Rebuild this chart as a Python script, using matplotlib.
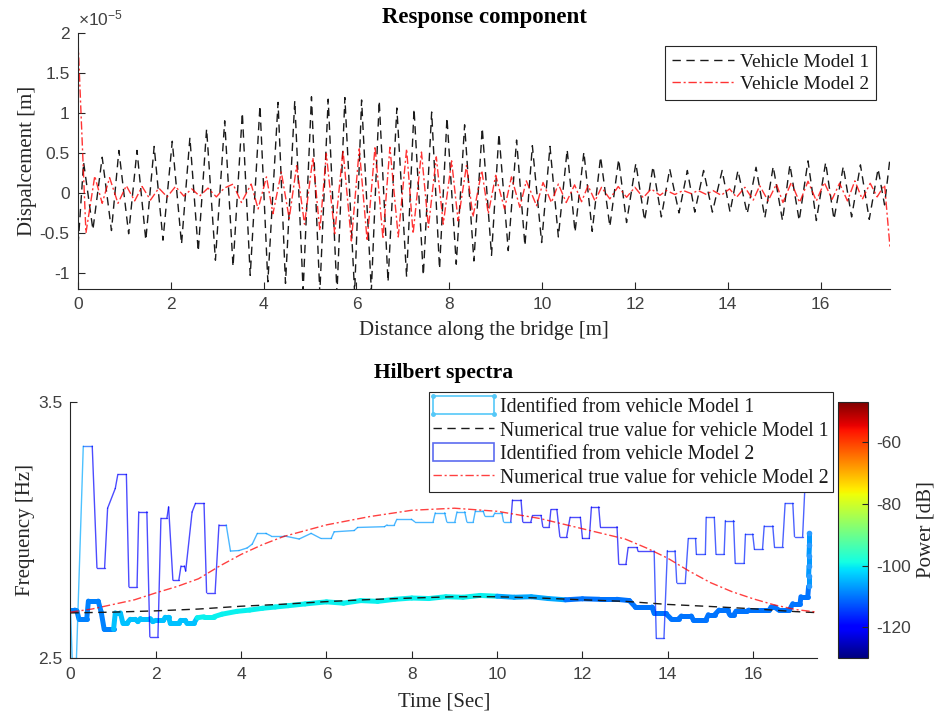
import numpy as np
import matplotlib
matplotlib.use('Agg')
import matplotlib.pyplot as plt
from matplotlib.collections import LineCollection
from matplotlib.colors import Normalize
from matplotlib.cm import ScalarMappable
from matplotlib.legend_handler import HandlerBase
from matplotlib.patches import Rectangle
from matplotlib.lines import Line2D
from matplotlib.ticker import FormatStrFormatter

plt.rcParams['font.family'] = 'Liberation Sans'
plt.rcParams['axes.unicode_minus'] = False
plt.rcParams['mathtext.fontset'] = 'custom'
plt.rcParams['mathtext.rm'] = 'Liberation Sans'

SERIF = 'Liberation Serif'
AXC = '#262626'
TXC = '#404040'

# ---- top panel: displacement response (x10^-5 m), extrema
veh1_x = [0.0, 0.12, 0.32, 0.52, 0.72, 0.88, 1.09, 1.27, 1.46, 1.64, 1.83, 2.03, 2.23, 2.41,
          2.59, 2.77, 2.96, 3.16, 3.34, 3.54, 3.71, 3.92, 4.09, 4.31, 4.47, 4.67, 4.85, 5.03,
          5.21, 5.39, 5.58, 5.75, 5.96, 6.11, 6.32, 6.49, 6.68, 6.87, 7.08, 7.24, 7.44, 7.62,
          7.79, 7.95, 8.15, 8.33, 8.53, 8.71, 8.91, 9.07, 9.27, 9.45, 9.63, 9.79, 9.99, 10.17,
          10.35, 10.54, 10.71, 10.90, 11.08, 11.26, 11.46, 11.65, 11.82, 12.02, 12.21, 12.39,
          12.57, 12.75, 12.95, 13.13, 13.29, 13.48, 13.67, 13.88, 14.05, 14.22, 14.42, 14.61,
          14.80, 14.98, 15.18, 15.34, 15.54, 15.73, 15.91, 16.11, 16.29, 16.49, 16.67, 16.86,
          17.05, 17.24, 17.38, 17.5]
veh1_y = [-0.65, 0.38, -0.46, 0.445, -0.47, 0.53, -0.51, 0.53, -0.59, 0.58, -0.59, 0.645, -0.64,
          0.69, -0.73, 0.80, -0.84, 0.90, -0.92, 1.00, -1.03, 1.09, -1.11, 1.13, -1.13, 1.15,
          -1.22, 1.20, -1.25, 1.17, -1.25, 1.19, -1.25, 1.16, -1.22, 1.15, -1.11, 1.06, -1.05,
          1.05, -1.03, 1.01, -0.95, 0.94, -0.89, 0.85, -0.85, 0.81, -0.78, 0.74, -0.72, 0.66,
          -0.66, 0.59, -0.62, 0.58, -0.55, 0.54, -0.49, 0.51, -0.48, 0.45, -0.42, 0.42, -0.37,
          0.37, -0.345, 0.33, -0.30, 0.30, -0.25, 0.28, -0.24, 0.28, -0.24, 0.28, -0.24, 0.28,
          -0.26, 0.32, -0.31, 0.33, -0.345, 0.35, -0.345, 0.40, -0.345, 0.38, -0.33, 0.33, -0.30,
          0.35, -0.33, 0.30, -0.15, 0.45]

veh2_x = [0.0, 0.17, 0.36, 0.52, 0.68, 0.86, 1.04, 1.22, 1.38, 1.56, 1.74, 1.92, 2.10, 2.28,
          2.45, 2.62, 2.80, 2.98, 3.15, 3.34, 3.52, 3.73, 3.88, 4.06, 4.20, 4.38, 4.55, 4.71,
          4.88, 5.06, 5.21, 5.35, 5.53, 5.71, 5.89, 6.06, 6.23, 6.40, 6.57, 6.72, 6.90, 7.08,
          7.22, 7.40, 7.55, 7.72, 7.87, 8.05, 8.19, 8.37, 8.51, 8.70, 8.84, 9.00, 9.19, 9.34,
          9.52, 9.66, 9.88, 10.02, 10.20, 10.35, 10.52, 10.70, 10.85, 10.99, 11.14, 11.28,
          11.46, 11.64, 11.82, 12.00, 12.18, 12.35, 12.54, 12.68, 12.86, 13.04, 13.22, 13.36,
          13.54, 13.68, 13.86, 14.04, 14.19, 14.37, 14.55, 14.69, 14.87, 15.05, 15.19, 15.37,
          15.55, 15.73, 15.91, 16.08, 16.25, 16.41, 16.58, 16.74, 16.90, 17.07, 17.22, 17.38,
          17.5]
veh2_y = [1.89, -0.50, 0.21, -0.13, 0.19, -0.13, 0.09, -0.10, 0.08, -0.09, 0.06, -0.05, 0.08,
          -0.04, 0.05, -0.04, 0.06, -0.05, 0.06, 0.11, -0.12, 0.11, -0.20, 0.20, -0.26, 0.26,
          -0.32, 0.34, -0.39, 0.44, -0.47, 0.49, -0.51, 0.53, -0.60, 0.55, -0.60, 0.58, -0.57,
          0.57, -0.55, 0.55, -0.51, 0.51, -0.43, 0.45, -0.39, 0.40, -0.35, 0.34, -0.30, 0.28,
          -0.26, 0.22, -0.20, 0.20, -0.18, 0.15, -0.16, 0.13, -0.12, 0.11, -0.12, 0.10, -0.11,
          0.09, -0.10, 0.07, -0.075, 0.08, -0.055, 0.07, -0.06, 0.05, -0.03, 0.03, -0.02, 0.03,
          -0.01, 0.03, -0.02, 0.03, -0.03, 0.05, -0.055, 0.07, -0.09, 0.09, -0.10, 0.11, -0.12,
          0.13, -0.12, 0.145, -0.10, 0.13, -0.08, 0.12, -0.10, 0.15, -0.08, 0.12, -0.05, 0.10,
          -0.70]

# ---- bottom panel: Hilbert spectra
id1_t = [0.0, 0.10, 0.15, 0.20, 0.38, 0.42, 0.65, 0.72, 0.79, 1.01, 1.05, 1.17, 1.23, 1.32,
         1.40, 1.52, 1.58, 1.64, 1.87, 1.93, 2.00, 2.18, 2.22, 2.30, 2.34, 2.54, 2.58, 2.69,
         2.73, 2.89, 2.97, 3.13, 3.36, 3.55, 3.90, 4.20, 4.50, 4.80, 5.10, 5.50, 6.00, 6.40,
         6.80, 7.20, 7.60, 8.00, 8.40, 8.80, 9.20, 9.60, 10.00, 10.40, 10.80, 11.20, 11.60,
         12.00, 12.40, 12.80, 13.10, 13.24, 13.63, 13.68, 13.95, 14.07, 14.26, 14.32, 14.55,
         14.60, 14.89, 14.95, 15.10, 15.20, 15.40, 15.45, 15.55, 15.60, 15.85, 15.90, 16.38,
         16.42, 16.50, 16.60, 16.85, 16.93, 17.10, 17.12, 17.28, 17.30, 17.30, 17.31, 17.31,
         17.32, 17.32]
id1_f = [2.688, 2.688, 2.685, 2.652, 2.652, 2.723, 2.723, 2.680, 2.613, 2.613, 2.677, 2.677,
         2.636, 2.636, 2.652, 2.652, 2.643, 2.655, 2.655, 2.643, 2.648, 2.648, 2.660, 2.660,
         2.636, 2.636, 2.648, 2.648, 2.636, 2.636, 2.658, 2.662, 2.662, 2.672, 2.683, 2.688,
         2.695, 2.700, 2.705, 2.712, 2.720, 2.715, 2.725, 2.722, 2.730, 2.735, 2.733, 2.740,
         2.738, 2.745, 2.742, 2.738, 2.740, 2.733, 2.728, 2.732, 2.730, 2.730, 2.725, 2.700,
         2.700, 2.675, 2.675, 2.655, 2.655, 2.665, 2.665, 2.649, 2.649, 2.670, 2.670, 2.688,
         2.688, 2.670, 2.670, 2.684, 2.684, 2.688, 2.688, 2.700, 2.700, 2.688, 2.688, 2.713,
         2.713, 2.740, 2.740, 2.780, 2.820, 2.860, 2.900, 2.940, 2.990]
id1_pbreaks = [1.0, 3.0, 10.0, 11.5, 17.29]
id1_plevels = [-109, -104, -100, -106, -110, -107]

id2_t = [0.0, 0.05, 0.13, 0.30, 0.51, 0.62, 0.80, 0.87, 1.05, 1.11, 1.31, 1.37, 1.56, 1.60,
         1.79, 1.86, 2.05, 2.12, 2.26, 2.30, 2.40, 2.54, 2.59, 2.67, 2.70, 2.85, 2.93, 3.13,
         3.19, 3.39, 3.48, 3.65, 3.75, 3.95, 4.14, 4.26, 4.38, 4.58, 4.70, 5.01, 5.36, 5.64,
         5.87, 6.11, 6.18, 6.65, 6.73, 7.36, 7.42, 7.59, 7.65, 7.99, 8.07, 8.50, 8.55, 8.77,
         8.82, 9.01, 9.06, 9.24, 9.29, 9.44, 9.49, 9.67, 9.71, 9.91, 9.95, 10.11, 10.15, 10.32,
         10.36, 10.56, 10.60, 10.79, 10.83, 11.03, 11.07, 11.22, 11.26, 11.40, 11.47, 11.63,
         11.71, 11.95, 12.00, 12.16, 12.21, 12.38, 12.42, 12.81, 12.85, 13.02, 13.07, 13.28,
         13.30, 13.68, 13.73, 13.91, 13.99, 14.17, 14.21, 14.41, 14.48, 14.65, 14.67, 14.88,
         14.90, 15.09, 15.13, 15.32, 15.35, 15.54, 15.58, 15.79, 15.82, 15.99, 16.03, 16.22,
         16.26, 16.46, 16.50, 16.69, 16.75, 16.93, 16.97, 17.16, 17.25]
id2_f = [2.690, 2.450, 2.450, 3.327, 3.327, 2.853, 2.853, 3.085, 3.162, 3.217, 3.217, 2.779,
         2.779, 3.071, 3.071, 2.584, 2.584, 3.046, 3.046, 3.090, 2.805, 2.805, 2.860, 2.860,
         2.840, 3.070, 3.104, 3.104, 2.756, 2.756, 3.020, 3.020, 2.918, 2.920, 2.930, 2.945,
         2.987, 2.987, 2.977, 2.977, 2.965, 2.987, 2.967, 2.967, 2.993, 2.998, 3.010, 3.013,
         3.020, 3.020, 3.042, 3.042, 3.032, 3.032, 3.067, 3.067, 3.032, 3.032, 3.071, 3.071,
         3.032, 3.032, 3.075, 3.075, 3.055, 3.055, 3.067, 3.067, 3.032, 3.032, 3.117, 3.117,
         3.032, 3.032, 3.057, 3.057, 3.013, 3.013, 3.080, 3.080, 2.974, 2.974, 3.050, 3.050,
         2.967, 2.967, 3.090, 3.090, 3.013, 3.013, 2.867, 2.867, 2.932, 2.932, 2.918, 2.918,
         2.578, 2.578, 2.920, 2.920, 2.795, 2.795, 2.967, 2.967, 2.905, 2.905, 3.050, 3.050,
         2.905, 2.905, 3.037, 3.037, 2.870, 2.870, 2.984, 2.984, 2.925, 2.925, 3.016, 3.016,
         2.935, 2.935, 3.104, 3.104, 2.974, 2.974, 3.300]
id2_pbreaks = [0.3, 0.55, 3.6, 10.3, 13.7]
id2_plevels = [-106, -112, -120, -107, -121, -117]

true1_t = [0, 1, 2, 3, 4, 5, 6, 7, 8, 9, 10, 11, 12, 13, 14, 15, 16, 17, 17.5]
true1_f = [2.677, 2.680, 2.685, 2.692, 2.703, 2.711, 2.721, 2.729, 2.735, 2.740, 2.740, 2.735,
           2.728, 2.722, 2.710, 2.702, 2.693, 2.682, 2.678]
true2_t = [0, 0.5, 1, 1.5, 2, 2.5, 3, 3.5, 4, 4.5, 5, 6, 7, 8, 9, 10, 11, 12, 13, 13.5, 14,
           14.5, 15, 15.5, 16, 16.5, 17, 17.5]
true2_f = [2.680, 2.692, 2.710, 2.728, 2.755, 2.780, 2.810, 2.860, 2.905, 2.943, 2.975, 3.020,
           3.052, 3.077, 3.085, 3.073, 3.045, 3.005, 2.965, 2.930, 2.890, 2.840, 2.795, 2.760,
           2.732, 2.708, 2.690, 2.680]

power_lim = (-130, -47)
power_ticks = [-120, -100, -80, -60]


def style(ax):
    for s in ['top', 'right']:
        ax.spines[s].set_visible(False)
    for s in ['left', 'bottom']:
        ax.spines[s].set_color(AXC)
        ax.spines[s].set_linewidth(0.8)
    ax.tick_params(direction='in', length=5, width=0.8, color=AXC,
                   labelsize=12.5, labelcolor=TXC, pad=6)


def colored_line(ax, t, f, breaks, levels, lw, norm, alpha=1.0):
    pts = np.column_stack([t, f])
    segs = np.stack([pts[:-1], pts[1:]], axis=1)
    mid = (np.array(t[:-1]) + np.array(t[1:])) / 2
    pw = np.array(levels)[np.searchsorted(breaks, mid)]
    lc = LineCollection(segs, cmap='jet', norm=norm, linewidths=lw, alpha=alpha,
                        capstyle='round', joinstyle='round')
    lc.set_array(pw)
    ax.add_collection(lc)
    return lc


class RectHandler(HandlerBase):
    def __init__(self, color, dots):
        super().__init__()
        self.color = color
        self.dots = dots

    def create_artists(self, legend, orig_handle, xd, yd, w, h, fontsize, trans):
        x0, y0 = -xd, -yd
        arts = [Rectangle((x0, y0), w, h, fill=False, edgecolor=self.color,
                          lw=1.2, transform=trans)]
        if self.dots:
            arts.append(Line2D([x0, x0 + w, x0, x0 + w], [y0, y0, y0 + h, y0 + h],
                               ls='none', marker='o', ms=2.5, color=self.color,
                               transform=trans))
        return arts


fig = plt.figure(figsize=(9.36, 7.22), dpi=100)
ax1 = fig.add_axes([0.0834, 0.5997, 0.8676, 0.355])
ax2 = fig.add_axes([0.0753, 0.0882, 0.7977, 0.3554])
cax = fig.add_axes([0.8953, 0.0882, 0.032, 0.3554])

# top panel
style(ax1)
ax1.plot(veh1_x, veh1_y, color='#1a1a1a', lw=1.0, ls=(0, (6, 4)), label='Vehicle Model 1')
ax1.plot(veh2_x, veh2_y, color='red', lw=1.0, ls=(0, (6, 2, 1.5, 2)), alpha=0.8,
         label='Vehicle Model 2')
ax1.set_xlim(0, 17.5)
ax1.set_ylim(-1.2, 2)
ax1.set_xticks(range(0, 17, 2))
ax1.set_yticks([-1, -0.5, 0, 0.5, 1, 1.5, 2])
ax1.yaxis.set_major_formatter(FormatStrFormatter('%g'))
ax1.set_xlabel('Distance along the bridge [m]', family=SERIF, fontsize=15, color=AXC, labelpad=6)
ax1.set_ylabel('Dispalcement [m]', family=SERIF, fontsize=15, color=AXC, labelpad=2)
ax1.set_title('Response component', family=SERIF, fontsize=16.5, fontweight='bold', pad=7)
ax1.text(0.0, 1.015, r'$\mathregular{\times10^{-5}}$', transform=ax1.transAxes,
         fontsize=12.5, color=TXC, ha='left', va='bottom')
leg1 = ax1.legend(loc='upper right', bbox_to_anchor=(0.936, 0.936), bbox_transform=fig.transFigure,
                  prop={'family': SERIF, 'size': 14}, fancybox=False, edgecolor=AXC,
                  framealpha=1, handlelength=3.2, labelspacing=0.25, borderpad=0.35,
                  handletextpad=0.3, borderaxespad=0, labelcolor='#1a1a1a')
leg1.get_frame().set_linewidth(0.8)

# bottom panel
norm = Normalize(*power_lim)
style(ax2)
colored_line(ax2, id1_t, id1_f, id1_pbreaks, id1_plevels, 3.6, norm)
tail = np.array(id1_t) >= 17.29
ax2.scatter(np.array(id1_t)[tail], np.array(id1_f)[tail], s=9, color='#2c9cff', zorder=3)
colored_line(ax2, id2_t, id2_f, id2_pbreaks, id2_plevels, 1.0, norm, alpha=0.7)
ax2.plot(true1_t, true1_f, color='#1a1a1a', lw=1.0, ls=(0, (6, 4)), zorder=4)
ax2.plot(true2_t, true2_f, color='red', lw=1.0, ls=(0, (6, 2, 1.5, 2)), alpha=0.75, zorder=4)
ax2.set_xlim(0, 17.5)
ax2.set_ylim(2.5, 3.5)
ax2.set_xticks(range(0, 17, 2))
ax2.set_yticks([2.5, 3.5])
ax2.yaxis.set_major_formatter(FormatStrFormatter('%g'))
ax2.set_xlabel('Time [Sec]', family=SERIF, fontsize=15, color=AXC, labelpad=8)
ax2.set_ylabel('Frequency [Hz]', family=SERIF, fontsize=15, color=AXC, labelpad=2)
ax2.set_title('Hilbert spectra', family=SERIF, fontsize=15.5, fontweight='bold', pad=17)

h1 = Rectangle((0, 0), 1, 1)
h2 = Line2D([], [], color='#1a1a1a', lw=1.0, ls=(0, (6, 4)))
h3 = Rectangle((0, 0), 1, 1)
h4 = Line2D([], [], color='red', lw=1.0, ls=(0, (6, 2, 1.5, 2)), alpha=0.75)
labels2 = ['Identified from vehicle Model 1', 'Numerical true value for vehicle Model 1',
           'Identified from vehicle Model 2', 'Numerical true value for vehicle Model 2']
leg2 = ax2.legend([h1, h2, h3, h4], labels2, loc='upper right', bbox_to_anchor=(0.89, 0.457),
                  bbox_transform=fig.transFigure, handler_map={h1: RectHandler('#55c8f8', True),
                                                                h3: RectHandler('#5c6cf0', False)},
                  prop={'family': SERIF, 'size': 14.2}, fancybox=False, edgecolor=AXC,
                  framealpha=1, handlelength=3.1, handleheight=1.0, labelspacing=0.15,
                  borderpad=0.22, handletextpad=0.3, borderaxespad=0, labelcolor='#1a1a1a')
leg2.get_frame().set_linewidth(0.8)
leg2.set_zorder(10)

cb = fig.colorbar(ScalarMappable(norm=norm, cmap='jet'), cax=cax, ticks=power_ticks)
cb.outline.set_edgecolor(AXC)
cb.outline.set_linewidth(0.8)
cb.ax.tick_params(direction='in', length=4, width=0.8, color=AXC, labelsize=12.5,
                  labelcolor=TXC, pad=6)
cb.ax.yaxis.set_major_formatter(FormatStrFormatter('%g'))
cb.set_label('Power [dB]', family=SERIF, fontsize=15, color=AXC, labelpad=4)

fig.savefig('out.png', dpi=100)
